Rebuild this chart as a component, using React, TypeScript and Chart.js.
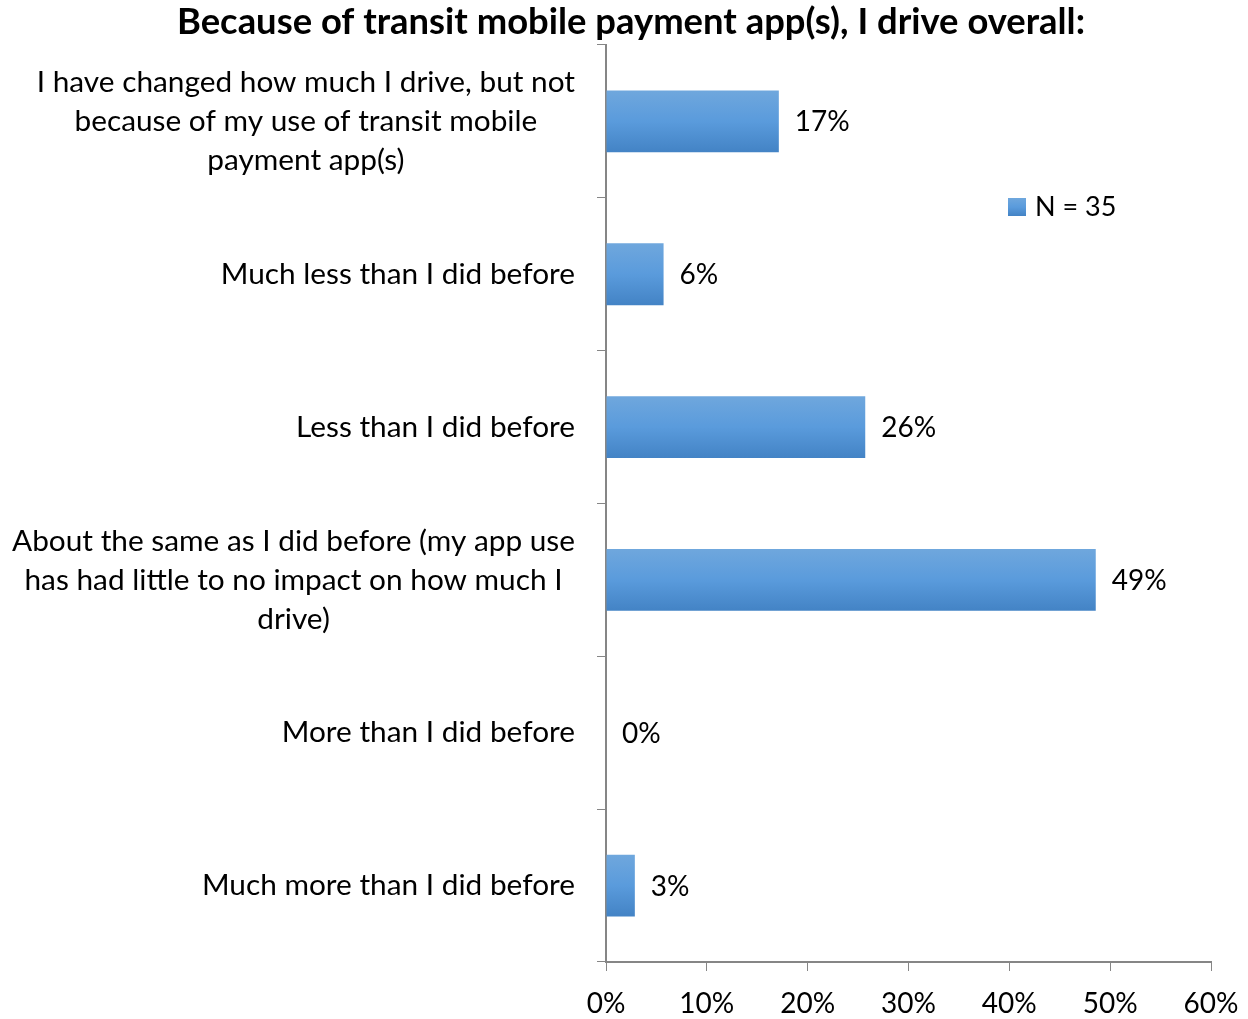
import React, { useEffect, useRef } from "react";
import { Chart, registerables } from "chart.js";

Chart.register(...registerables);

const TITLE = "Because of transit mobile payment app(s), I drive overall:";
const CATEGORIES: string[][] = [
  ["I have changed how much I drive, but not", "because of my use of transit mobile", "payment app(s)"],
  ["Much less than I did before"],
  ["Less than I did before"],
  ["About the same as I did before (my app use", "has had little to no impact on how much I", "drive)"],
  ["More than I did before"],
  ["Much more than I did before"],
];
const VALUES = [17.14, 5.71, 25.71, 48.57, 0, 2.86];
const VALUE_LABELS = ["17%", "6%", "26%", "49%", "0%", "3%"];
const SERIES_NAME = "N = 35";
const X_TICKS = [0, 10, 20, 30, 40, 50, 60];

const FONT = "Lato, 'Open Sans', sans-serif";
const AXIS_COLOR = "#868686";

function makeGradient(c: CanvasRenderingContext2D, top: number, bottom: number) {
  const g = c.createLinearGradient(0, top, 0, bottom);
  g.addColorStop(0, "#6fa7dd");
  g.addColorStop(0.5, "#5a9bdc");
  g.addColorStop(1, "#4383c5");
  return g;
}

export default function App() {
  const ref = useRef<HTMLCanvasElement | null>(null);
  useEffect(() => {
    if (!ref.current) return;
    const gradientPlugin = {
      id: "barGradient",
      beforeDatasetsDraw(chart: any) {
        const c = chart.ctx;
        chart.getDatasetMeta(0).data.forEach((el: any) => {
          const p = el.getProps(["y", "height"], true);
          el.options = Object.assign({}, el.options, {
            backgroundColor: makeGradient(c, p.y - p.height / 2, p.y + p.height / 2),
          });
        });
      },
    };
    const labelsPlugin = {
      id: "customLabels",
      afterDraw(chart: any) {
        const c: CanvasRenderingContext2D = chart.ctx;
        const yScale = chart.scales.y;
        const area = chart.chartArea;
        c.save();
        // title
        c.font = `bold 36.4px ${FONT}`;
        c.fillStyle = "#000";
        c.textBaseline = "middle";
        c.textAlign = "center";
        c.fillText(TITLE, 631, 22);
        // category labels
        c.font = `29.8px ${FONT}`;
        const lineH = 39;
        const right = area.left - 31;
        CATEGORIES.forEach((lines, i) => {
          const cy = yScale.getPixelForValue(i);
          const w = Math.max(...lines.map((l) => c.measureText(l).width));
          const cx = right - w / 2;
          const startY = cy - ((lines.length - 1) * lineH) / 2;
          lines.forEach((l, j) => c.fillText(l, cx, startY + j * lineH));
        });
        // value labels
        c.font = `28px ${FONT}`;
        c.textAlign = "left";
        chart.getDatasetMeta(0).data.forEach((el: any, i: number) => {
          const p = el.getProps(["x", "y"], true);
          c.fillText(VALUE_LABELS[i], p.x + 16, p.y + 1);
        });
        // legend
        const lx = 1008, ly = 198;
        c.fillStyle = makeGradient(c, ly, ly + 18);
        c.fillRect(lx, ly, 18, 18);
        c.fillStyle = "#000";
        c.font = `27px ${FONT}`;
        c.fillText(SERIES_NAME, lx + 27, ly + 9);
        c.restore();
      },
    };
    const chart = new Chart(ref.current, {
      type: "bar",
      data: {
        labels: CATEGORIES.map((l) => l.join(" ")),
        datasets: [
          {
            label: SERIES_NAME,
            data: VALUES,
            backgroundColor: () => "#5a9bdc",
            borderWidth: 0,
            barPercentage: 0.405,
            categoryPercentage: 1,
          },
        ],
      },
      options: {
        indexAxis: "y",
        animation: false,
        responsive: false,
        maintainAspectRatio: false,
        layout: { padding: { left: 0, right: 37, top: 45, bottom: 0 } },
        plugins: {
          legend: { display: false },
          tooltip: { enabled: false },
          title: { display: false, text: TITLE },
        },
        scales: {
          x: {
            min: 0,
            max: 60,
            afterBuildTicks: (scale: any) => {
              scale.ticks = X_TICKS.map((v) => ({ value: v }));
            },
            afterFit: (scale: any) => {
              scale.height = 57;
              scale.paddingLeft = 0;
              scale.paddingRight = 0;
            },
            grid: {
              drawOnChartArea: false,
              drawTicks: true,
              tickLength: 9,
              color: AXIS_COLOR,
              lineWidth: 1,
            },
            border: { display: true, color: AXIS_COLOR, width: 2 },
            ticks: {
              color: "#000",
              font: { family: FONT, size: 28 },
              padding: 16,
              callback: (v: any) => `${v}%`,
            },
          },
          y: {
            afterFit: (scale: any) => {
              scale.width = 606;
            },
            grid: {
              drawOnChartArea: false,
              drawTicks: true,
              tickLength: 9,
              color: AXIS_COLOR,
              lineWidth: 1,
              offset: true,
            },
            border: { display: true, color: AXIS_COLOR, width: 2 },
            ticks: { display: false },
          },
        },
      },
      plugins: [gradientPlugin, labelsPlugin],
    });
    return () => chart.destroy();
  }, []);
  return (
    <canvas
      ref={ref}
      width={1248}
      height={1019}
      style={{ position: "fixed", left: 0, top: 0, width: 1248, height: 1019, background: "#fff" }}
    />
  );
}
